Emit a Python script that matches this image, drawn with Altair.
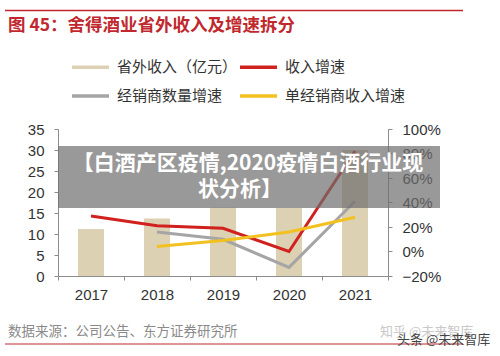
import altair as alt
import pandas as pd

# ---- data ----
years = ["2017", "2018", "2019", "2020", "2021"]
revenue = [11.2, 13.7, 16.3, 16.2, 30.0]              # 省外收入（亿元）
rev_growth = [0.29, 0.21, 0.19, 0.00, 0.82]           # 收入增速
dealer_growth = [None, 0.16, 0.10, -0.13, 0.41]       # 经销商数量增速
per_dealer_growth = [None, 0.04, 0.09, 0.16, 0.28]    # 单经销商收入增速

series_names = ["省外收入（亿元）", "收入增速", "经销商数量增速", "单经销商收入增速"]
series_colors = ["#ddd1b3", "#d0211f", "#a5a5a5", "#f3c11f"]
# legend fills column by column: col1 = 省外收入 / 经销商数量增速, col2 = 收入增速 / 单经销商收入增速
legend_order = [0, 2, 1, 3]

left_ticks = [0, 5, 10, 15, 20, 25, 30, 35]
right_ticks = [-0.2, 0.0, 0.2, 0.4, 0.6, 0.8, 1.0]

title_text = "图 45：舍得酒业省外收入及增速拆分"
source_text = "数据来源：公司公告、东方证券研究所"
banner_line1 = "【白酒产区疫情,2020疫情白酒行业现"
banner_line2 = "状分析】"

# ---- tables ----
bar_df = pd.DataFrame({"year": years, "value": revenue})
rows = []
for name, vals in zip(series_names[1:], [rev_growth, dealer_growth, per_dealer_growth]):
    for y, v in zip(years, vals):
        if v is not None:
            rows.append({"year": y, "series": name, "value": v})
line_df = pd.DataFrame(rows)

dom = [series_names[i] for i in legend_order]
rng = [series_colors[i] for i in legend_order]

W, H = 330, 147
AX_FONT = "Liberation Sans"
CJK = "Noto Sans CJK SC"

x_enc = alt.X("year:O", title=None, sort=years,
              scale=alt.Scale(paddingInner=0, paddingOuter=0),
              axis=alt.Axis(labelAngle=0, labelFontSize=15, labelFont=AX_FONT,
                            labelColor="#333333", domainColor="#8c8c8c",
                            tickColor="#8c8c8c", tickSize=4, tickBand="extent",
                            labelPadding=7, grid=False))

bars = alt.Chart(bar_df).mark_bar(size=26, color=series_colors[0]).encode(
    x=x_enc,
    y=alt.Y("value:Q", title=None,
            scale=alt.Scale(domain=[0, 35], nice=False),
            axis=alt.Axis(values=left_ticks, labelFontSize=15, labelFont=AX_FONT,
                          labelColor="#333333", domainColor="#8c8c8c",
                          tickColor="#8c8c8c", tickSize=4, labelPadding=10,
                          grid=False, orient="left")),
)

lines = alt.Chart(line_df).mark_line(strokeWidth=3).encode(
    x=alt.X("year:O", sort=years),
    y=alt.Y("value:Q", title=None,
            scale=alt.Scale(domain=[-0.2, 1.0], nice=False),
            axis=alt.Axis(values=right_ticks, format=".0%", labelFontSize=15,
                          labelFont=AX_FONT, labelColor="#333333",
                          domainColor="#8c8c8c", tickColor="#8c8c8c",
                          tickSize=4, labelPadding=10, grid=False, orient="right")),
    color=alt.Color("series:N",
                    scale=alt.Scale(domain=dom, range=rng),
                    sort=dom,
                    legend=alt.Legend(title=None, orient="none", legendX=12, legendY=-82.5,
                                      columns=2, columnPadding=-5, rowPadding=-8,
                                      symbolType="stroke", symbolSize=1369,
                                      symbolStrokeWidth=3.5, labelFontSize=15,
                                      labelFont=CJK, labelColor="#333333",
                                      labelOffset=6, padding=0)),
)

one = pd.DataFrame({"k": [0]})

def text_layer(txt, x, y, size, color, weight="normal", align="left", font=CJK, opacity=1.0):
    return alt.Chart(one).mark_text(text=txt, fontSize=size, color=color, fontWeight=weight,
                                    align=align, baseline="middle", font=font,
                                    opacity=opacity).encode(
        x=alt.value(x), y=alt.value(y))

title = text_layer(title_text, -50, -103.5, 17.5, "#c0282e", weight="bold")
top_rule = alt.Chart(one).mark_rule(color="#c0282e", strokeWidth=1.5).encode(
    x=alt.value(-53), x2=alt.value(405), y=alt.value(-118.5))
bottom_rule = alt.Chart(one).mark_rule(color="#c0282e", strokeWidth=1).encode(
    x=alt.value(-53), x2=alt.value(405), y=alt.value(215))
source = text_layer(source_text, -50, 203, 13.5, "#8a8a8a")
wm1 = text_layer("知乎 @未来智库", 322, 203, 13, "#c8c8c8")
wm2 = text_layer("头条 @未来智库", 339, 211, 13, "#444444")

banner = alt.Chart(one).mark_rect(color="#6e6e6e", opacity=0.7).encode(
    x=alt.value(0), x2=alt.value(382), y=alt.value(17), y2=alt.value(79))
b1 = text_layer(banner_line1, 190, 35, 21, "white", weight="bold", align="center")
b2 = text_layer(banner_line2, 182, 61, 21, "white", weight="bold", align="center")

chart = alt.layer(bars, lines, banner, b1, b2, title, top_rule, bottom_rule,
                  source, wm1, wm2).resolve_scale(y="independent").properties(
    width=W, height=H,
    autosize=alt.AutoSizeParams(type="none"),
    padding={"left": 58, "top": 129, "right": 112, "bottom": 80},
    background="white",
).configure_view(stroke=None)

chart.save("out.html", embed_options={"renderer": "svg", "actions": False})
